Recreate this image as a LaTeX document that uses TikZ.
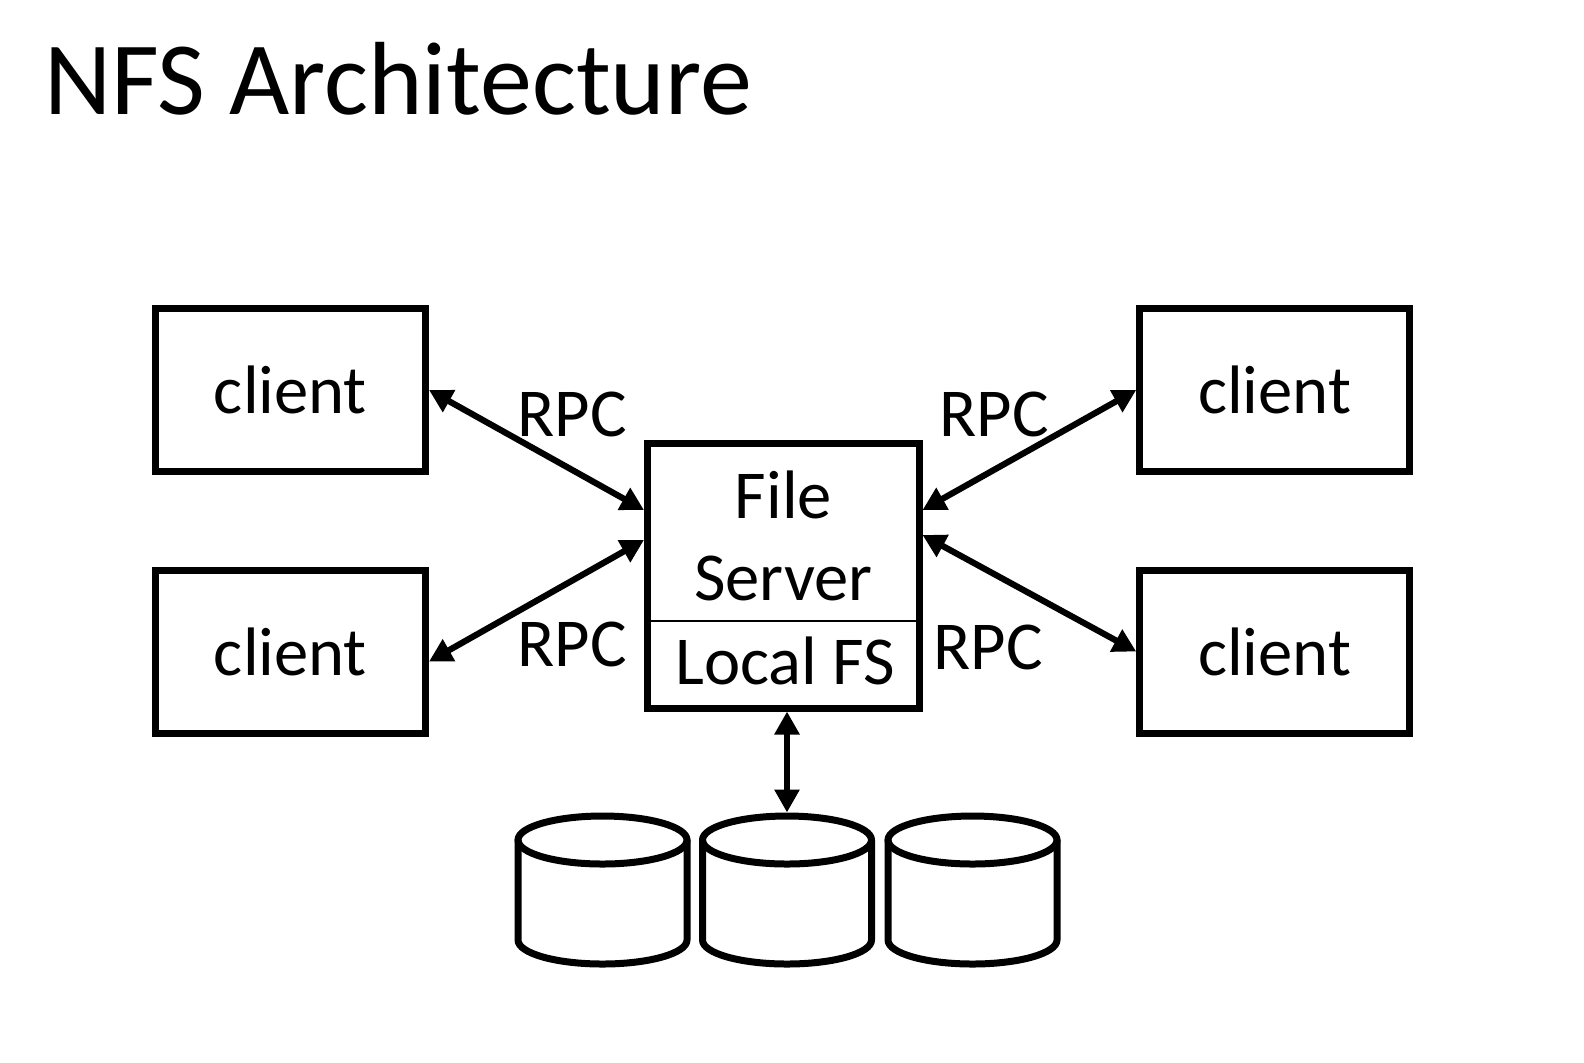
\documentclass[tikz,border=0pt]{standalone}
\usepackage{fontspec}
\setmainfont{Carlito}
\usetikzlibrary{arrows.meta,calc}
\newcommand{\mybodyfont}{\fontsize{34.3}{41}\selectfont}
\newcommand{\mytitlefont}{\fontsize{52}{62}\selectfont}
\tikzset{
  clientbox/.style={draw, line width=3.5pt, minimum width=135pt, minimum height=81.5pt, inner sep=0pt, font=\mybodyfont},
  serverbox/.style={draw, line width=3.5pt, minimum width=135.75pt, minimum height=132.25pt, inner sep=0pt},
  txt/.style={inner sep=0pt, font=\mybodyfont},
  rpcarrow/.style={{Triangle[length=11.5pt,width=12pt]}-{Triangle[length=11.5pt,width=12pt]}, line width=3.1pt},
  divline/.style={line width=0.8pt},
  disk/.style={line width=3.5pt, line join=round, line cap=round}
}
\begin{document}
\begin{tikzpicture}[x=0.5pt, y=-0.5pt]
\useasboundingbox (0,0) rectangle (1584,1062);
\fill[white] (0,0) rectangle (1584,1062);

% title
\node[anchor=base west, inner sep=0pt, font=\mytitlefont] (title) at (44,114) {NFS Architecture};

% clients
\node[clientbox] (cTL) at (290.5,390) {client};
\node[clientbox] (cBL) at (290.5,651.5) {client};
\node[clientbox] (cTR) at (1274.75,390) {client};
\node[clientbox] (cBR) at (1274.75,651.5) {client};

% server
\node[serverbox] (srv) at (783.25,575.75) {};
\node[txt, anchor=base] (file) at (783.5,518) {File};
\node[txt, anchor=base] (server) at (783.5,600) {Server};
\node[txt, anchor=base] (localfs) at (785,684) {Local FS};
\draw[divline] ([yshift=-90.5pt]srv.north west) -- ([yshift=-90.5pt]srv.north east);

% RPC connectors
\draw[rpcarrow] (cTL.east) -- ([yshift=-35pt]srv.north west);
\draw[rpcarrow] ([yshift=-5pt]cBL.east) -- ([yshift=-50pt]srv.north west);
\draw[rpcarrow] (cTR.west) -- ([yshift=-35pt]srv.north east);
\draw[rpcarrow] (cBR.west) -- ([yshift=-47.5pt]srv.north east);

\node[txt, anchor=base] (rpcTL) at (572,436.5) {RPC};
\node[txt, anchor=base] (rpcBL) at (572,666.5) {RPC};
\node[txt, anchor=base] (rpcTR) at (994.3,436.5) {RPC};
\node[txt, anchor=base] (rpcBR) at (988.3,669) {RPC};

% disks
\foreach \cx in {602.5,787,972.5}{
  \draw[disk] (\cx-84.5,840) -- (\cx-84.5,940)
    arc[start angle=180, end angle=360, x radius=42.25pt, y radius=12pt]
    -- (\cx+84.5,840);
  \draw[disk] (\cx,840) ellipse[x radius=42.25pt, y radius=12pt];
}
\coordinate (disk2top) at (787,812.5);
\draw[rpcarrow] (srv.south -| disk2top) -- (disk2top);
\end{tikzpicture}
\end{document}
